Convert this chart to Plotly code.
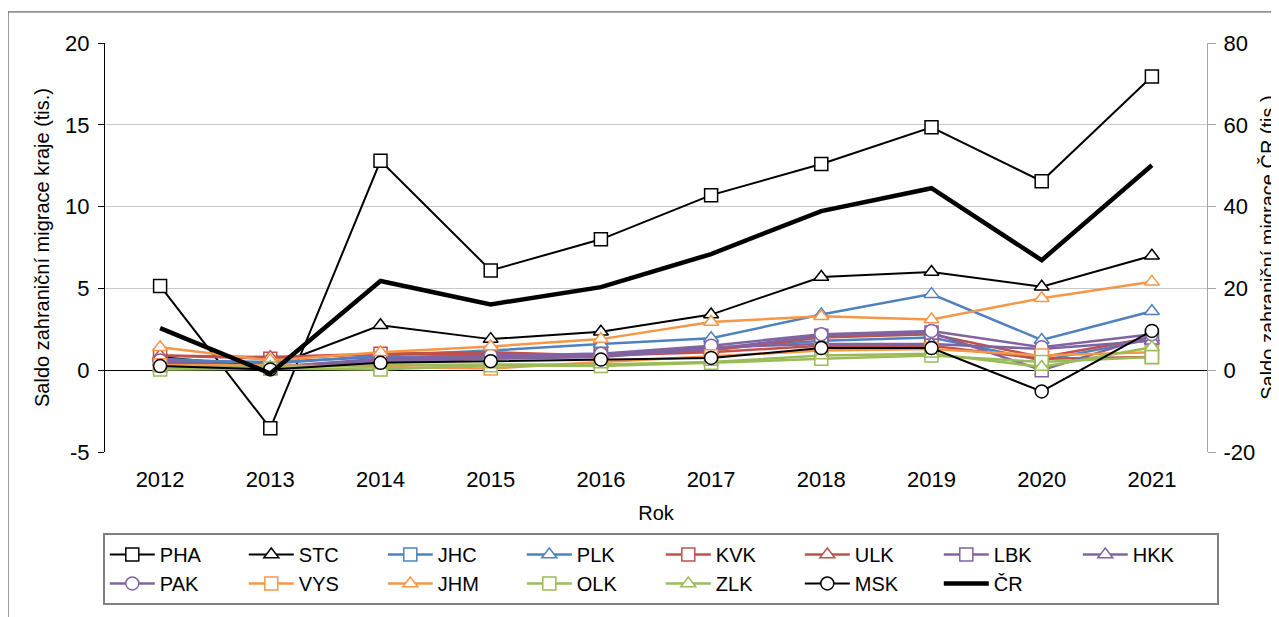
import plotly.graph_objects as go

years = [2012, 2013, 2014, 2015, 2016, 2017, 2018, 2019, 2020, 2021]
year_labels = [str(y) for y in years]

y_left_ticks = [-5, 0, 5, 10, 15, 20]
y_left_text = ["-5", "0", "5", "10", "15", "20"]
y_right_ticks = [-20, 0, 20, 40, 60, 80]
y_right_text = ["-20", "0", "20", "40", "60", "80"]

PHA = [5.15, -3.55, 12.8, 6.1, 8.0, 10.7, 12.6, 14.85, 11.55, 17.95]
STC = [0.8, 0.2, 2.75, 1.9, 2.35, 3.4, 5.7, 6.0, 5.1, 7.0]
JHC = [0.6, 0.5, 0.8, 0.9, 1.0, 1.3, 1.8, 2.0, 0.6, 1.9]
PLK = [0.7, 0.4, 0.9, 1.2, 1.6, 1.95, 3.4, 4.65, 1.85, 3.6]
KVK = [0.9, 0.7, 1.0, 1.0, 0.9, 1.1, 1.5, 1.5, 0.7, 0.8]
ULK = [0.9, 0.8, 1.0, 1.1, 0.9, 1.2, 2.0, 2.2, 0.8, 2.0]
LBK = [0.4, 0.1, 0.5, 0.7, 0.8, 1.3, 2.1, 2.3, 0.0, 2.1]
HKK = [0.5, 0.2, 0.6, 0.8, 0.85, 1.4, 1.6, 1.6, 1.3, 1.8]
PAK = [0.6, 0.2, 0.7, 0.9, 1.0, 1.5, 2.2, 2.4, 1.4, 2.2]
VYS = [0.3, 0.3, 0.2, 0.1, 0.5, 0.85, 1.2, 1.3, 0.9, 1.1]
JHM = [1.4, 0.6, 1.1, 1.45, 1.9, 2.95, 3.3, 3.1, 4.4, 5.4]
OLK = [0.05, 0.1, 0.05, 0.3, 0.25, 0.45, 0.7, 0.9, 0.5, 0.8]
ZLK = [0.1, 0.2, 0.3, 0.35, 0.35, 0.5, 0.9, 1.0, 0.2, 1.4]
MSK = [0.25, 0.05, 0.45, 0.55, 0.65, 0.75, 1.35, 1.35, -1.3, 2.4]
CR = [10.3, -0.8, 21.8, 16.1, 20.3, 28.4, 38.9, 44.5, 26.9, 50.1]

BLACK = "#000000"
BLUE = "#4F81BD"
RED = "#C0504D"
PURPLE = "#8064A2"
ORANGE = "#F79646"
GREEN = "#9BBB59"

series = [
    ("PHA", PHA, BLACK, "square", 2),
    ("STC", STC, BLACK, "triangle-up", 2),
    ("JHC", JHC, BLUE, "square", 2.5),
    ("PLK", PLK, BLUE, "triangle-up", 2.5),
    ("KVK", KVK, RED, "square", 2.5),
    ("ULK", ULK, RED, "triangle-up", 2.5),
    ("LBK", LBK, PURPLE, "square", 2.5),
    ("HKK", HKK, PURPLE, "triangle-up", 2.5),
    ("PAK", PAK, PURPLE, "circle", 2.5),
    ("VYS", VYS, ORANGE, "square", 2.5),
    ("JHM", JHM, ORANGE, "triangle-up", 2.5),
    ("OLK", OLK, GREEN, "square", 2.5),
    ("ZLK", ZLK, GREEN, "triangle-up", 2.5),
    ("MSK", MSK, BLACK, "circle", 2),
]

FONT = "Liberation Sans, Arial, sans-serif"

fig = go.Figure()
for name, vals, col, sym, lw in series:
    fig.add_trace(go.Scatter(
        x=year_labels, y=vals, name=name, mode="lines+markers",
        line=dict(color=col, width=lw),
        marker=dict(symbol=sym, size=13, color="white",
                    line=dict(color=col, width=1.5)),
        yaxis="y",
    ))

fig.add_trace(go.Scatter(
    x=year_labels, y=CR, name="ČR", mode="lines",
    line=dict(color=BLACK, width=4.5), yaxis="y2",
))

fig.update_layout(
    width=1279, height=617,
    margin=dict(l=97, r=80, t=35, b=173, autoexpand=False),
    paper_bgcolor="white", plot_bgcolor="white",
    font=dict(family=FONT, size=20, color="black"),
    showlegend=True,
    xaxis=dict(
        type="category", categoryorder="array", categoryarray=year_labels,
        showgrid=False, zeroline=False, showline=False,
        ticks="", ticklabelstandoff=12,
        tickfont=dict(size=22),
        title=dict(text="Rok", font=dict(size=20), standoff=14),
        range=[-0.5, 9.5],
    ),
    yaxis=dict(
        range=[-5, 20], tickmode="array", tickvals=y_left_ticks, ticktext=y_left_text,
        showgrid=True, gridcolor="#C8C8C8", gridwidth=1,
        zeroline=True, zerolinecolor="black", zerolinewidth=1,
        showline=True, linecolor="black", linewidth=1,
        ticks="outside", ticklen=6, tickcolor="black",
        ticklabelstandoff=4,
        tickfont=dict(size=22),
        title=dict(text="Saldo zahraniční migrace kraje (tis.)",
                   font=dict(size=20, color="black"), standoff=10),
    ),
    yaxis2=dict(
        range=[-20, 80], tickmode="array", tickvals=y_right_ticks, ticktext=y_right_text,
        overlaying="y", side="right",
        showgrid=False, zeroline=False,
        showline=True, linecolor="#A6A6A6", linewidth=1,
        ticks="outside", ticklen=8, tickcolor="#A6A6A6",
        ticklabelstandoff=3,
        tickfont=dict(size=22),
        title=dict(text="Saldo zahraniční migrace ČR (tis.)",
                   font=dict(size=20, color="black"), standoff=6),
    ),
    legend=dict(
        orientation="h", x=-0.002, y=-0.198, xanchor="left", yanchor="top",
        bordercolor="#808080", borderwidth=2, bgcolor="white",
        font=dict(size=20), entrywidth=79, entrywidthmode="pixels",
        itemwidth=45, traceorder="normal",
    ),
    shapes=[dict(type="rect", xref="paper", yref="paper",
                 x0=-0.088, x1=1.2, y0=-0.6, y1=1.076,
                 line=dict(color="#404040", width=1), fillcolor="rgba(0,0,0,0)",
                 layer="below")],
)

fig.write_html("out.html")
